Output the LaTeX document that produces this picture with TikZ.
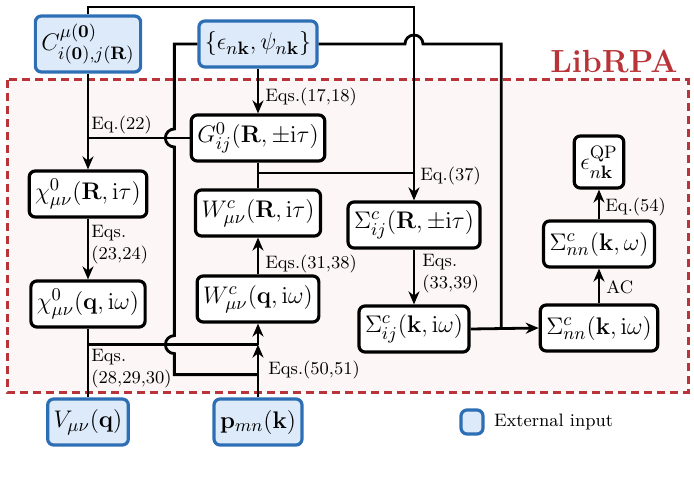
\documentclass[tikz,border=0pt]{standalone}
\usepackage{amsmath,amssymb}
\usepackage{tikz}
\usetikzlibrary{arrows.meta,positioning,calc}
\usepackage{xcolor}
\definecolor{extblue}{RGB}{220,234,250}
\definecolor{extedge}{RGB}{46,110,180}
\definecolor{libred}{RGB}{184,52,56}
\definecolor{libfill}{RGB}{253,246,246}

\begin{document}
\begin{tikzpicture}[x=0.5pt, y=0.5pt, >={Stealth[length=6.5pt,width=5.5pt]},
    box/.style={rectangle, rounded corners=3pt, draw, line width=1.6pt, fill=white, font=\fontsize{12.4}{15}\selectfont, minimum height=23pt, inner xsep=3pt},
    ext/.style={box, draw=extedge, fill=extblue},
    lbl/.style={font=\small, anchor=west, align=left, inner sep=0pt},
    wire/.style={line width=1.4pt}]
    \useasboundingbox (0,0) rectangle (694,-480);

    % LibRPA region
    \draw[libred, line width=1.5pt, dash pattern=on 4pt off 2.5pt, fill=libfill] (7,-80) rectangle (688,-392);
    \node[font=\fontsize{16}{19}\selectfont\bfseries, text=libred, anchor=base east, inner sep=0pt] (lib) at (678,-73) {LibRPA};

    % external inputs
    \node[ext, minimum height=28pt] (C) at (88,-44) {$C^{\mu(\mathbf{0})}_{i(\mathbf{0}),j(\mathbf{R})}$};
    \node[ext] (eps) at (258,-44) {$\left\{\epsilon_{n\mathbf{k}},\psi_{n\mathbf{k}}\right\}$};
    \node[ext] (V) at (88,-422) {$V_{\mu\nu}(\mathbf{q})$};
    \node[ext] (p) at (258,-422) {$\mathbf{p}_{mn}(\mathbf{k})$};

    % quantities inside LibRPA
    \node[box] (G0) at (258,-138) {$G^{0}_{ij}(\mathbf{R},\pm\mathrm{i}\tau)$};
    \node[box] (chiR) at (88,-194) {$\chi^{0}_{\mu\nu}(\mathbf{R},\mathrm{i}\tau)$};
    \node[box] (WR) at (258,-213) {$W^{c}_{\mu\nu}(\mathbf{R},\mathrm{i}\tau)$};
    \node[box] (SR) at (414,-225) {$\Sigma^{c}_{ij}(\mathbf{R},\pm\mathrm{i}\tau)$};
    \node[box] (chiq) at (88,-304) {$\chi^{0}_{\mu\nu}(\mathbf{q},\mathrm{i}\omega)$};
    \node[box] (Wq) at (258,-299) {$W^{c}_{\mu\nu}(\mathbf{q},\mathrm{i}\omega)$};
    \node[box] (Sk) at (414,-329) {$\Sigma^{c}_{ij}(\mathbf{k},\mathrm{i}\omega)$};
    \node[box] (Snk) at (599,-328) {$\Sigma^{c}_{nn}(\mathbf{k},\mathrm{i}\omega)$};
    \node[box] (Sw) at (599,-244) {$\Sigma^{c}_{nn}(\mathbf{k},\omega)$};
    \node[box, minimum height=26pt] (QP) at (599,-162) {$\epsilon^{\mathrm{QP}}_{n\mathbf{k}}$};

    % legend
    \node[ext, minimum width=11pt, minimum height=12pt, inner sep=0pt] (key) at (472,-422) {};
    \node[font=\small, anchor=west, inner sep=0pt] (keytxt) at ($(key.east)+(9,0)$) {External input};

    % helper points
    \coordinate (rail) at (0,-7);
    \coordinate (bus) at ($(eps.west)+(-23,0)$);
    \coordinate (jG) at ($(G0.south)!0.4!(WR.north)$);
    \coordinate (jR) at ($(Sk.east)!0.45!(Snk.west)$);
    \coordinate (jW) at ($(Wq.south)+(0,-21)$);
    \coordinate (jP) at ($(Wq.south)+(0,-51)$);

    % connectors
    \draw[wire,->] (eps.south) -- (G0.north);
    \draw[wire,->] (C.south) -- (chiR.north);
    \draw[wire] (G0.west) -- (G0.west -| C.south);
    \draw[wire,->] (C.north) |- (rail -| SR.north) -- (SR.north);
    \draw[wire] (G0.south) -- (WR.north);
    \draw[wire] (jG) -- (jG -| SR.north);
    \draw[wire] (eps.east) -- ($(eps.east -| SR.north)+(-9,0)$) arc[start angle=180, end angle=0, radius=4.5pt] -- (eps.east -| jR) -- (jR);
    \draw[wire] (eps.west) -- (bus) -- ($(bus |- G0.west)+(0,9)$) arc[start angle=90, end angle=270, radius=4.5pt]
        -- ($(bus |- jW)+(0,9)$) arc[start angle=90, end angle=270, radius=4.5pt] -- (bus |- jP) -- (jP);
    \draw[wire] (chiq.south) -- (V.north);
    \draw[wire] (chiq.south |- jW) -- (jW);
    \draw[wire,->] (p.north) -- (jW);
    \draw[wire,->] (jW) -- (Wq.south);
    \draw[wire,->] (chiR.south) -- (chiq.north);
    \draw[wire,->] (Wq.north) -- (WR.south);
    \draw[wire,->] (SR.south) -- (Sk.north);
    \draw[wire,->] (Sk.east) -- (Snk.west);
    \draw[wire,->] (Snk.north) -- (Sw.south);
    \draw[wire,->] (Sw.north) -- (QP.south);

    % equation labels
    \node[lbl] (l22) at (91,-125) {Eq.(22)};
    \node[lbl] (l1718) at (265,-97) {Eqs.(17,18)};
    \node[lbl] (l37) at (420,-176) {Eq.(37)};
    \node[lbl] (l2324) at (91,-245) {Eqs.\\(23,24)};
    \node[lbl] (l3138) at (265,-264) {Eqs.(31,38)};
    \node[lbl] (l3339) at (422,-274) {Eqs.\\(33,39)};
    \node[lbl] (lac) at (606,-287) {AC};
    \node[lbl] (l54) at (605,-207) {Eq.(54)};
    \node[lbl] (l282930) at (91,-369) {Eqs.\\(28,29,30)};
    \node[lbl] (l5051) at (268,-370) {Eqs.(50,51)};
\end{tikzpicture}
\end{document}
